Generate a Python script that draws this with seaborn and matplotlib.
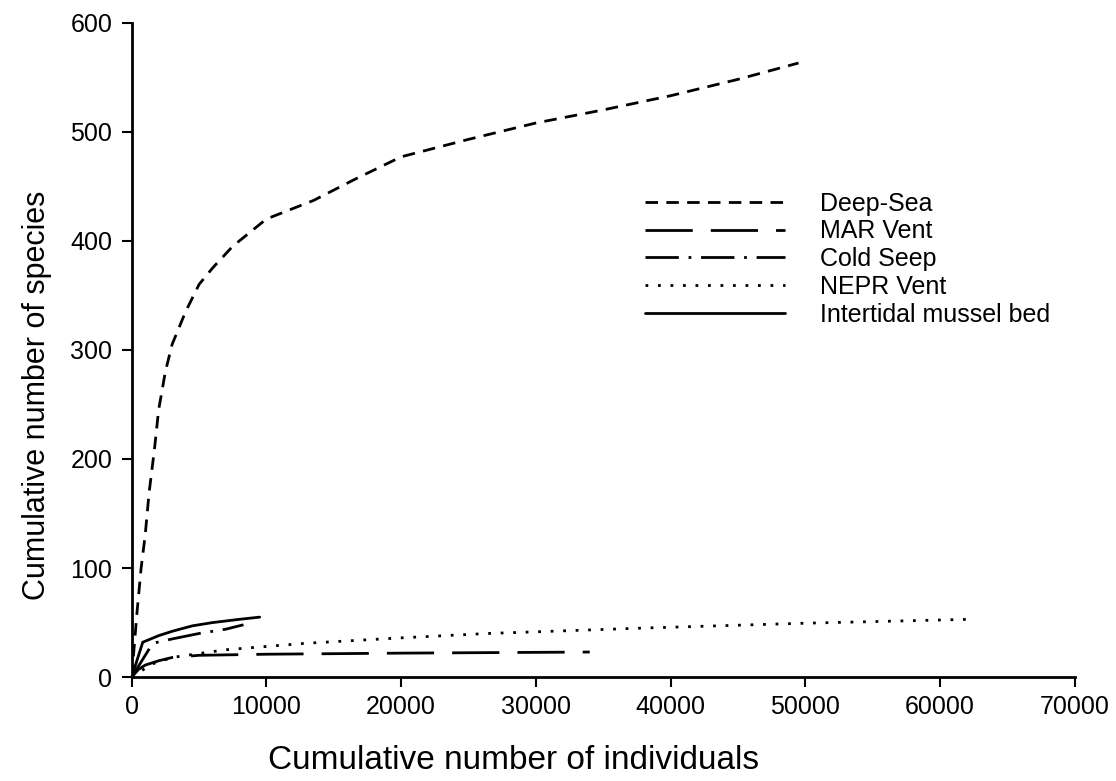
import pandas as pd
import seaborn as sns
import matplotlib.pyplot as plt

# values
deep_x = [0, 200, 400, 700, 1000, 1300, 1700, 2000, 2500, 3000, 4000, 5000, 6000, 7500,
          10000, 13500, 16500, 20000, 25000, 30000, 35000, 40000, 45000, 49500]
deep_y = [0, 30, 60, 100, 130, 170, 210, 245, 280, 305, 335, 360, 375, 395,
          420, 437, 456, 477, 493, 508, 520, 533, 548, 563]
mar_x = [0, 500, 1000, 2000, 3000, 5000, 10000, 20000, 34000]
mar_y = [0, 7, 11, 15, 18, 20, 21, 22, 23]
seep_x = [0, 1560, 3000, 5000, 7000, 8300]
seep_y = [0, 31, 35, 40, 44, 48]
nepr_x = [0, 1500, 3000, 6900, 12900, 20000, 26400, 38000, 50200, 62200]
nepr_y = [0, 12, 18, 25, 31, 36, 40, 45, 49.5, 53]
mussel_x = [0, 820, 2000, 3000, 4500, 6000, 8000, 9500]
mussel_y = [0, 32, 38, 42, 47, 50, 53, 55]

names = ["Deep-Sea", "MAR Vent", "Cold Seep", "NEPR Vent", "Intertidal mussel bed"]
xs = [deep_x, mar_x, seep_x, nepr_x, mussel_x]
ys = [deep_y, mar_y, seep_y, nepr_y, mussel_y]

rows = []
for n, xx, yy in zip(names, xs, ys):
    for a, b in zip(xx, yy):
        rows.append({"site": n, "ind": a, "spp": b})
df = pd.DataFrame(rows)

sns.set_style("ticks")
plt.rcParams['font.family'] = ['Liberation Sans', 'DejaVu Sans']
plt.rcParams['text.color'] = 'black'
plt.rcParams['axes.labelcolor'] = 'black'

fig = plt.figure(figsize=(11.16, 7.81), dpi=100)
ax = fig.add_axes([0.118, 0.133, 0.845, 0.838])

dash_map = {"Deep-Sea": (4.5, 3), "MAR Vent": (17, 6.5), "Cold Seep": (12, 3.5, 1, 3.5),
            "NEPR Vent": (1, 3.5), "Intertidal mussel bed": ""}
sns.lineplot(data=df, x="ind", y="spp", style="site", style_order=names, dashes=dash_map,
             color="black", linewidth=2, estimator=None, sort=False, ax=ax)

ax.set_xlim(0, 70000)
ax.set_ylim(0, 600)
ax.set_xticks(range(0, 70001, 10000))
ax.set_yticks(range(0, 601, 100))
ax.tick_params(axis="both", labelsize=18, length=7, width=1.5, colors="black")
ax.tick_params(axis="x", pad=6)
ax.tick_params(axis="y", pad=7)
for s in ["left", "bottom"]:
    ax.spines[s].set_linewidth(2)
    ax.spines[s].set_color("black")
sns.despine(ax=ax)

ax.set_xlabel("Cumulative number of individuals", fontsize=24)
ax.set_ylabel("Cumulative number of species", fontsize=22)
# labels sit off-centre in the reference
ax.xaxis.set_label_coords(0.405, -0.103)
ax.yaxis.set_label_coords(-0.084, 0.43)

ax.legend(loc="upper left", bbox_to_anchor=(0.544, 0.742), borderaxespad=0, borderpad=0,
          frameon=False, fontsize=18, handlelength=5.6, handletextpad=1.4,
          labelspacing=0.15, title=None)

fig.savefig("out.png", dpi=100)
